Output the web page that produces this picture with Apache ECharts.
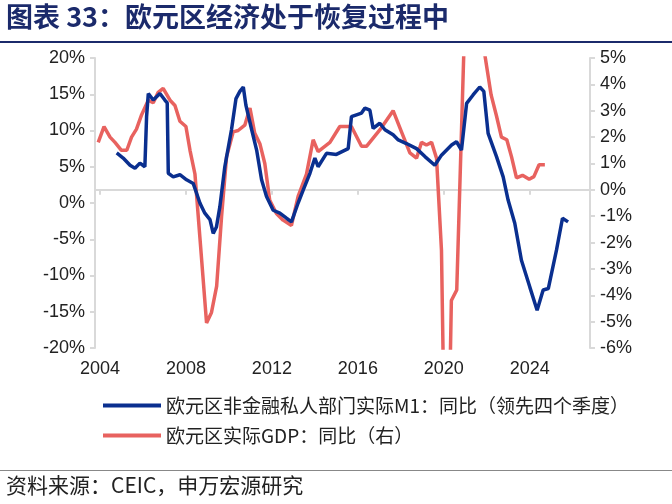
<!DOCTYPE html>
<html><head><meta charset="utf-8">
<script src="https://cdn.jsdelivr.net/npm/echarts@6/dist/echarts.min.js"></script>
<style>html,body{margin:0;padding:0;background:#fff}#chart{width:672px;height:504px}</style>
</head><body><div id="chart"></div>
<script>
// 欧元区非金融私人部门实际M1 同比（领先四个季度），[年份, %]
var m1Data = [
  [2004.78,6.9],[2005.08,6.2],[2005.4,5.2],[2005.63,4.8],[2005.86,5.5],[2006.09,5.0],[2006.17,11.9],
  [2006.25,15.1],[2006.48,14.2],[2006.79,15.1],[2007.02,14.2],[2007.13,13.8],[2007.18,4.1],[2007.41,3.6],
  [2007.72,3.9],[2008.03,3.2],[2008.34,2.7],[2008.65,0],[2008.88,-1.4],[2009.12,-2.3],[2009.27,-4.2],
  [2009.42,-3.3],[2009.58,-0.5],[2009.81,5.0],[2010.12,10.1],[2010.33,14.4],[2010.51,15.4],[2010.67,16.0],
  [2010.79,13.5],[2011.06,10.1],[2011.29,7.3],[2011.52,3.2],[2011.75,0.9],[2012.06,-1.0],[2012.37,-1.4],
  [2012.68,-2.1],[2012.91,-2.6],[2013.22,0],[2013.46,1.8],[2013.77,4.1],[2014.0,6.2],[2014.15,5.0],
  [2014.54,6.85],[2015.0,6.7],[2015.55,7.5],[2015.7,11.9],[2016.17,12.4],[2016.33,13.1],[2016.56,12.8],
  [2016.71,10.3],[2017.02,11.0],[2017.26,10.1],[2017.64,9.4],[2017.88,8.7],[2018.26,8.2],[2018.73,7.5],
  [2019.12,6.4],[2019.58,5.2],[2019.89,6.6],[2020.36,8.0],[2020.59,8.45],[2020.82,7.3],[2021.06,13.75],
  [2021.36,14.9],[2021.67,16.0],[2021.86,15.4],[2022.06,9.6],[2022.45,6.4],[2022.76,3.6],[2022.99,0.4],
  [2023.3,-2.8],[2023.61,-7.9],[2024.0,-11.6],[2024.34,-14.8],[2024.62,-12.0],[2024.86,-11.8],
  [2025.24,-6.5],[2025.52,-2.1],[2025.78,-2.6]
];
// 欧元区实际GDP 同比（右轴），[年份, %]
var gdpData = [
  [2003.92,1.8],[2004.19,2.4],[2004.47,2.0],[2004.7,1.8],[2005.0,1.5],[2005.25,1.5],[2005.47,2.0],
  [2005.7,2.3],[2005.94,2.85],[2006.25,3.4],[2006.48,3.3],[2006.71,3.7],[2006.94,3.85],[2007.26,3.4],
  [2007.49,3.2],[2007.72,2.6],[2008.0,2.4],[2008.19,1.5],[2008.42,0.6],[2008.65,-1.8],[2008.96,-5.05],
  [2009.19,-4.65],[2009.43,-3.65],[2009.66,-1.0],[2009.89,1.25],[2010.2,2.2],[2010.43,2.25],[2010.74,2.45],
  [2010.98,3.1],[2011.2,2.15],[2011.44,1.75],[2011.67,1.0],[2011.9,-0.4],[2012.21,-0.9],[2012.52,-1.15],
  [2012.91,-1.35],[2013.22,-0.25],[2013.61,0.6],[2013.92,1.9],[2014.15,1.45],[2014.7,1.8],[2015.16,2.4],
  [2015.7,2.4],[2016.17,1.65],[2016.4,1.65],[2017.02,2.27],[2017.64,3.0],[2018.03,2.2],[2018.42,1.4],
  [2018.73,1.2],[2018.96,1.8],[2019.19,1.7],[2019.43,1.8],[2019.66,1.2],[2019.89,-2.3],[2020.12,-14.5],
  [2020.35,-4.2],[2020.6,-3.8],[2021.25,14.0],[2021.7,6.2],[2022.2,3.6],[2022.45,2.8],[2022.68,2.0],
  [2022.93,1.9],[2023.15,1.25],[2023.38,0.45],[2023.66,0.55],[2023.97,0.4],[2024.19,0.5],[2024.43,0.95],
  [2024.7,0.95]
];
var yearTicks = [2004, 2008, 2012, 2016, 2020, 2024];
var seriesNames = ['欧元区非金融私人部门实际M1：同比（领先四个季度）', '欧元区实际GDP：同比（右）'];

var navy = '#0a2f8f', red = '#e8625f', gray = '#d9d9d9';
var numFont = 'Liberation Sans, Arial, sans-serif';
var cjk = 'Noto Sans CJK SC, sans-serif';

var chart = echarts.init(document.getElementById('chart'));
chart.setOption({
  animation: false,
  grid: { left: 95, right: 82, top: 58, bottom: 156 },
  legend: {
    orient: 'vertical', left: 98, top: 391, itemGap: 11,
    icon: 'rect', itemWidth: 58, itemHeight: 4,
    textStyle: { fontFamily: cjk, fontSize: 19, color: '#222' },
    data: seriesNames
  },
  xAxis: [{
    type: 'value', min: 2003.77, max: 2026.8,
    axisLine: { show: false }, axisTick: { show: false }, splitLine: { show: false },
    axisLabel: { customValues: yearTicks, formatter: function (v) { return String(v); },
      fontFamily: numFont, fontSize: 18, color: '#222', margin: 12 }
  }, {
    type: 'value', min: 2003.77, max: 2026.8, position: 'bottom',
    axisLine: { onZero: true, lineStyle: { color: gray, width: 2 } },
    axisTick: { customValues: yearTicks, length: 5, lineStyle: { color: gray, width: 2 } },
    axisLabel: { show: false }, splitLine: { show: false }
  }],
  yAxis: [{
    type: 'value', min: -20, max: 20, interval: 5,
    axisLine: { show: true, lineStyle: { color: gray, width: 2 } },
    axisTick: { show: true, length: 5, lineStyle: { color: gray, width: 2 } },
    splitLine: { show: false },
    axisLabel: { formatter: '{value}%', fontFamily: numFont, fontSize: 18, color: '#222', margin: 10 }
  }, {
    type: 'value', min: -6, max: 5, interval: 1, position: 'right',
    axisLine: { show: true, lineStyle: { color: gray, width: 2 } },
    axisTick: { show: true, length: 5, lineStyle: { color: gray, width: 2 } },
    splitLine: { show: false },
    axisLabel: { formatter: '{value}%', fontFamily: numFont, fontSize: 18, color: '#222', margin: 10 }
  }],
  series: [{
    name: seriesNames[0], type: 'line', data: m1Data, yAxisIndex: 0, xAxisIndex: 0,
    showSymbol: false, lineStyle: { color: navy, width: 3.5 }, itemStyle: { color: navy }, z: 3
  }, {
    name: seriesNames[1], type: 'line', data: gdpData, yAxisIndex: 1, xAxisIndex: 0,
    showSymbol: false, lineStyle: { color: red, width: 3.5 }, itemStyle: { color: red }, z: 2
  }],
  graphic: [
    { type: 'text', left: 6, top: 3, style: { text: '图表 33：欧元区经济处于恢复过程中', fontFamily: cjk, fontSize: 27, fontWeight: 'bold', fill: '#1b2a6b' } },
    { type: 'rect', left: 0, top: 41, shape: { width: 672, height: 2 }, style: { fill: '#1b2a6b' } },
    { type: 'rect', left: 0, top: 470, shape: { width: 672, height: 1 }, style: { fill: '#888' } },
    { type: 'text', left: 6, top: 475, style: { text: '资料来源：CEIC，申万宏源研究', fontFamily: cjk, fontSize: 21, fill: '#222' } }
  ]
});
</script></body></html>
